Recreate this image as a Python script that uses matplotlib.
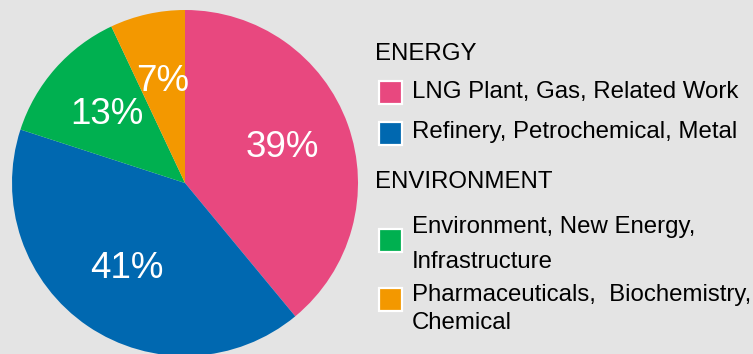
import matplotlib
matplotlib.use('Agg')
import matplotlib.pyplot as plt
from matplotlib.patches import Rectangle

plt.rcParams['font.family'] = ['Liberation Sans', 'DejaVu Sans']

shares = [39, 41, 13, 7]
colors = ['#e8487f', '#0068b0', '#00b050', '#f39800']
groups = ['ENERGY', 'ENVIRONMENT']
labels = [
    ['LNG Plant, Gas, Related Work'],
    ['Refinery, Petrochemical, Metal'],
    ['Environment, New Energy,', 'Infrastructure'],
    ['Pharmaceuticals,  Biochemistry,', 'Chemical'],
]

BG = '#e4e4e4'
W, H = 753, 354

fig = plt.figure(figsize=(W / 100, H / 100), dpi=100, facecolor=BG)

# pie: centre (185, 183) px from top-left, radius 173 px
cx, cy, r = 185, 183, 173
ax = fig.add_axes([(cx - r) / W, (H - cy - r) / H, 2 * r / W, 2 * r / H])
ax.set_facecolor(BG)
wedges, _, autotexts = ax.pie(shares, colors=colors, startangle=90, counterclock=False,
                              autopct='%.0f%%', pctdistance=0.6,
                              wedgeprops=dict(linewidth=0),
                              textprops=dict(color='white', fontsize=26.5))
ax.set_xlim(-1, 1)
ax.set_ylim(-1, 1)
ax.set_aspect('equal')
ax.axis('off')


def fx(px):
    return px / W


def fy(py):
    return (H - py) / H


# legend, drawn by hand (group headers + swatches)
fs = 17.3
fig.text(fx(375), fy(54), groups[0], fontsize=fs, va='center', ha='left')
fig.text(fx(375), fy(182), groups[1], fontsize=fs, va='center', ha='left')

swatch_y = [92, 133, 240, 299]
text_y = [[92], [132], [227, 262], [295, 323]]
sz = 23
for col, sy, lines, tys in zip(colors, swatch_y, labels, text_y):
    fig.patches.append(Rectangle((fx(390.5 - sz / 2), fy(sy + sz / 2)), sz / W, sz / H,
                                 transform=fig.transFigure, facecolor=col,
                                 edgecolor='white', linewidth=1.6))
    for line, ty in zip(lines, tys):
        fig.text(fx(412), fy(ty), line, fontsize=fs, va='center', ha='left')

fig.savefig('out.png', dpi=100, facecolor=BG)
